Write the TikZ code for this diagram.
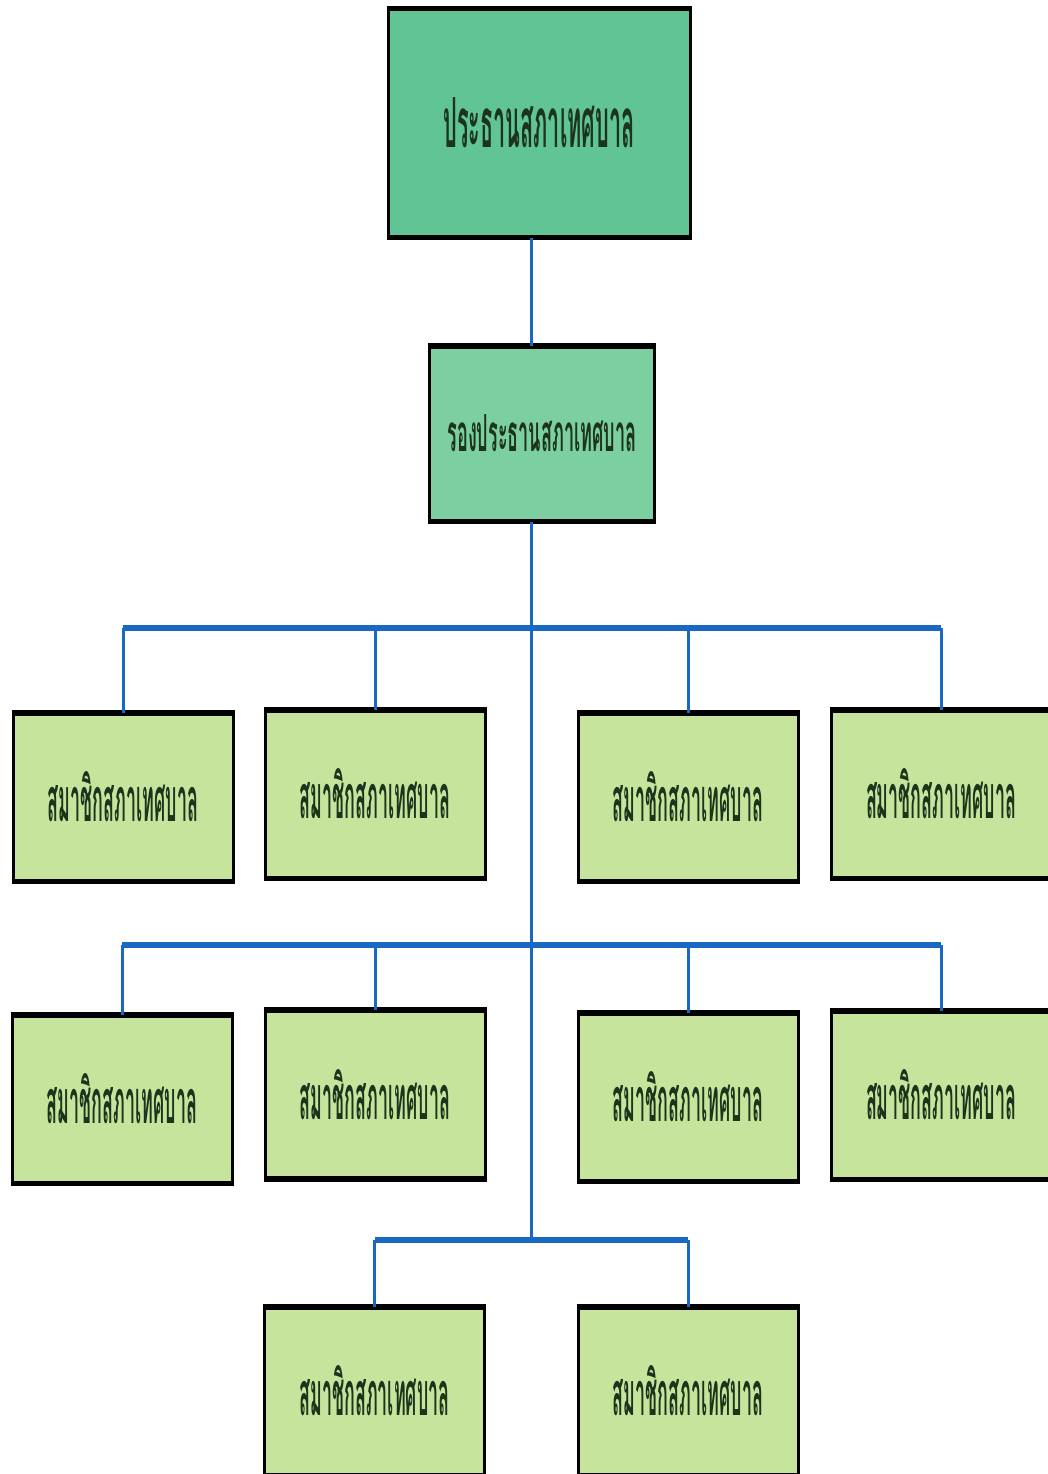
\documentclass[tikz,border=0pt]{standalone}
\usepackage{fontspec}
\newfontfamily\thaifont[Script=Thai]{Loma}
\definecolor{topfill}{RGB}{96,196,148}
\definecolor{vicefill}{RGB}{124,207,160}
\definecolor{memfill}{RGB}{198,228,156}
\definecolor{linkblue}{RGB}{24,104,196}
\definecolor{txtcol}{RGB}{28,52,28}
\tikzset{
  orgbox/.style={rectangle, draw=black, line width=3pt, inner sep=0pt, text=txtcol},
  chairbox/.style={orgbox, fill=topfill, minimum width=302pt, minimum height=226pt},
  vicebox/.style={orgbox, fill=vicefill, minimum width=225pt, minimum height=173pt},
  membox/.style={orgbox, fill=memfill, minimum width=220pt, minimum height=166pt},
  edgeline/.style={black, line width=5.5pt},
  link/.style={draw=linkblue, line width=3pt},
  bar/.style={draw=linkblue, line width=5.5pt}
}
\newcommand{\memtext}{\resizebox{150pt}{50pt}{\thaifont\bfseries สมาชิกสภาเทศบาล}}
\begin{document}
\begin{tikzpicture}[x=1pt,y=-1pt]
\useasboundingbox (0,0) rectangle (1048,1474);
\clip (0,0) rectangle (1048,1474);
\fill[white] (0,0) rectangle (1048,1474);

\coordinate (spine) at (531,0);
\coordinate (bar1) at (0,628);
\coordinate (bar2) at (0,945);
\coordinate (bar3) at (0,1240);

\node[chairbox] (chair) at (539,123) {\resizebox{191pt}{50pt}{\thaifont\bfseries ประธานสภาเทศบาล}};
\node[vicebox] (vice) at (542,433.5) {\resizebox{189pt}{37pt}{\thaifont\bfseries รองประธานสภาเทศบาล}};

\node[membox] (m11) at (123,797) {\memtext};
\node[membox] (m12) at (375,794) {\memtext};
\node[membox] (m13) at (688,797) {\memtext};
\node[membox] (m14) at (941,794) {\memtext};

\node[membox] (m21) at (122,1099) {\memtext};
\node[membox] (m22) at (375,1094.5) {\memtext};
\node[membox] (m23) at (688,1097) {\memtext};
\node[membox] (m24) at (941,1095) {\memtext};

\node[membox] (m31) at (374.5,1391) {\memtext};
\node[membox] (m32) at (688,1391) {\memtext};

% thicker top and bottom edges
\foreach \n in {chair,vice,m11,m12,m13,m14,m21,m22,m23,m24,m31,m32}{
  \draw[edgeline] (\n.north west) -- (\n.north east);
  \draw[edgeline] (\n.south west) -- (\n.south east);
}

% connectors
\draw[link] (chair.south -| spine) -- (vice.north -| spine);
\draw[link] (vice.south -| spine) -- (spine |- bar3);

\draw[bar] (m11.north |- bar1) -- (m14.north |- bar1);
\foreach \n in {m11,m12,m13,m14}{\draw[link] (\n.north |- bar1) -- (\n.north);}

\draw[bar] (m21.north |- bar2) -- (m24.north |- bar2);
\foreach \n in {m21,m22,m23,m24}{\draw[link] (\n.north |- bar2) -- (\n.north);}

\draw[bar] (m31.north |- bar3) -- (m32.north |- bar3);
\foreach \n in {m31,m32}{\draw[link] (\n.north |- bar3) -- (\n.north);}
\end{tikzpicture}
\end{document}
